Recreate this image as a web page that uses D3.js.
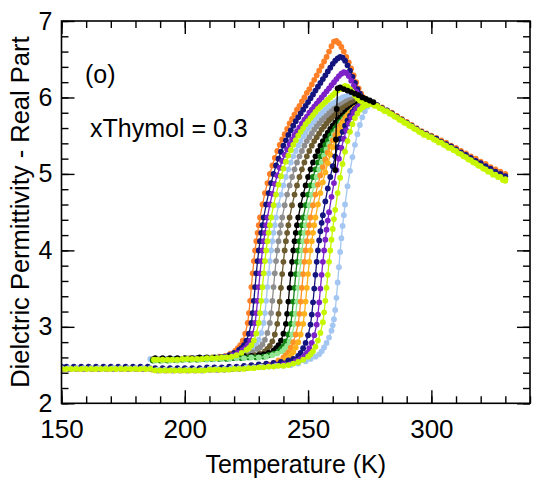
<!DOCTYPE html>
<html><head><meta charset="utf-8">
<script src="https://cdn.jsdelivr.net/npm/d3@7"></script>
<style>body{margin:0;background:#fff}svg{display:block}</style>
</head><body><svg id="c" width="533" height="485"></svg>
<script>
const xTicks = [150, 200, 250, 300];
const yTicks = [2, 3, 4, 5, 6, 7];
const seriesColors = ['#FF7F27','#15157F','#7D22C8','#C6F700','#A4C6F2','#8E8E8E','#6B5B2E','#000000','#128212','#92E592','#FF9326','#FFB21C','#15157F','#7D22C8','#C6F700','#A4C6F2','#000000'];

const s01 = [[187,2.58],[190,2.58],[193,2.58],[196,2.58],[199,2.58],[202,2.59],[205,2.59],[208,2.59],[211,2.60],[214,2.61],[216.5,2.62],[218.5,2.65],[220.5,2.69],[221.5,2.72],[222.5,2.76],[223.5,2.82],[224.5,2.91],[225.5,3.05],[226,3.18],[226.5,3.34],[227,3.52],[227.5,3.70],[228,3.86],[228.5,4.00],[229,4.12],[229.5,4.23],[230,4.33],[230.5,4.43],[231.5,4.60],[232.5,4.75],[233.5,4.88],[234.5,5.00],[235.5,5.11],[236.5,5.21],[237.5,5.30],[238.5,5.38],[239.5,5.45],[240.5,5.52],[241.5,5.59],[242.5,5.66],[243.5,5.72],[244.5,5.78],[245.5,5.84],[246.5,5.89],[247.5,5.95],[248.5,6.00],[249.5,6.06],[250.5,6.11],[251.5,6.17],[252.5,6.23],[253.5,6.29],[254.5,6.35],[255.5,6.41],[256.5,6.47],[257.5,6.53],[258.5,6.60],[259.5,6.67],[260.5,6.73],[261.5,6.74],[262.5,6.71],[263.5,6.66],[264.5,6.60],[265.5,6.53],[266.5,6.46],[267.5,6.38],[268.5,6.29],[269.5,6.20],[270.5,6.12],[271.5,6.05],[272.5,6.00],[273.5,5.97],[274.5,5.95],[276,5.93],[278,5.90],[280,5.87],[282,5.83],[284,5.80],[286,5.76],[288,5.72],[290,5.68],[292,5.64],[294,5.60],[296,5.56],[298,5.53],[300,5.50],[302,5.47],[304,5.44],[306,5.41],[308,5.37],[310,5.34],[312,5.30],[314,5.27],[316,5.23],[318,5.20],[320,5.16],[322,5.13],[324,5.09],[326,5.06],[328,5.03],[330,5.00]];
const s02 = [[187,2.57],[190,2.57],[193,2.58],[196,2.58],[199,2.58],[202,2.58],[205,2.59],[208,2.59],[211,2.59],[214,2.60],[216,2.61],[218,2.63],[220,2.66],[222,2.70],[223,2.72],[224,2.76],[225,2.82],[226,2.91],[227,3.05],[227.5,3.18],[228,3.34],[228.5,3.52],[229,3.70],[229.5,3.86],[230,4.00],[230.5,4.12],[231,4.23],[231.5,4.33],[232,4.43],[233,4.60],[234,4.75],[235,4.88],[236,5.00],[237,5.11],[238,5.20],[239,5.29],[240,5.37],[241,5.44],[242,5.51],[243,5.57],[244,5.63],[245,5.69],[246,5.74],[247,5.79],[248,5.84],[249,5.89],[250,5.94],[251,5.99],[252,6.04],[253,6.09],[254,6.14],[255,6.19],[256,6.24],[257,6.29],[258,6.34],[259,6.39],[260,6.44],[261,6.48],[262,6.51],[263,6.53],[264,6.52],[265,6.48],[266,6.42],[267,6.35],[268,6.27],[269,6.19],[270,6.11],[271,6.05],[272,6.00],[273,5.97],[274,5.95],[275,5.94],[276,5.93],[278,5.90],[280,5.86],[282,5.83],[284,5.79],[286,5.75],[288,5.71],[290,5.67],[292,5.63],[294,5.59],[296,5.55],[298,5.52],[300,5.49],[302,5.46],[304,5.42],[306,5.39],[308,5.36],[310,5.32],[312,5.28],[314,5.25],[316,5.21],[318,5.17],[320,5.14],[322,5.10],[324,5.07],[326,5.03],[328,5.00],[330,4.97]];
const s03 = [[188,2.57],[191,2.57],[194,2.57],[197,2.58],[200,2.58],[203,2.58],[206,2.59],[209,2.59],[212,2.59],[215,2.60],[217.5,2.61],[219.5,2.63],[221.5,2.66],[223.5,2.70],[224.5,2.72],[225.5,2.76],[226.5,2.82],[227.5,2.91],[228.5,3.05],[229,3.18],[229.5,3.34],[230,3.52],[230.5,3.70],[231,3.86],[231.5,4.00],[232,4.12],[232.5,4.23],[233,4.33],[233.5,4.43],[234.5,4.60],[235.5,4.74],[236.5,4.87],[237.5,4.98],[238.5,5.08],[239.5,5.17],[240.5,5.25],[241.5,5.32],[242.5,5.39],[243.5,5.45],[244.5,5.51],[245.5,5.56],[246.5,5.61],[247.5,5.66],[248.5,5.71],[249.5,5.75],[250.5,5.80],[251.5,5.84],[252.5,5.88],[253.5,5.92],[254.5,5.96],[255.5,6.00],[256.5,6.04],[257.5,6.08],[258.5,6.12],[259.5,6.16],[260.5,6.20],[261.5,6.24],[262.5,6.28],[263.5,6.31],[264.5,6.33],[265.5,6.32],[266.5,6.28],[267.5,6.22],[268.5,6.15],[269.5,6.08],[270.5,6.03],[271.5,5.99],[272.5,5.96],[273.5,5.94],[275,5.93],[276,5.92]];
const s04 = [[187.5,2.57],[189,2.57],[191,2.57],[193,2.57],[195,2.57],[197,2.57],[199,2.58],[201,2.58],[203,2.58],[205,2.58],[207,2.58],[209,2.59],[211,2.59],[213,2.59],[215,2.60],[217,2.60],[219,2.61],[221,2.63],[223,2.66],[225,2.70],[226,2.72],[227,2.76],[228,2.82],[229,2.91],[230,3.05],[230.5,3.18],[231,3.34],[231.5,3.52],[232,3.70],[232.5,3.86],[233,4.00],[233.5,4.12],[234,4.23],[234.5,4.33],[235,4.43],[236,4.59],[237,4.73],[238,4.86],[239,4.97],[240,5.07],[241,5.16],[242,5.24],[243,5.31],[244,5.38],[245,5.44],[246,5.50],[247,5.55],[248,5.60],[249,5.65],[250,5.69],[251,5.73],[252,5.77],[253,5.81],[254,5.85],[255,5.88],[256,5.91],[257,5.94],[258,5.97],[259,6.00],[260,6.03],[261,6.06],[262,6.09],[263,6.11],[264,6.13],[265,6.15],[266,6.14],[267,6.11],[268,6.07],[269,6.03],[270,5.99],[271,5.96],[272,5.94],[273,5.93],[274,5.92],[276,5.92],[278,5.89],[280,5.85],[282,5.82],[284,5.78],[286,5.74],[288,5.70],[290,5.66],[292,5.62],[294,5.58],[296,5.54],[298,5.51],[300,5.48],[302,5.44],[304,5.41],[306,5.37],[308,5.34],[310,5.30],[312,5.26],[314,5.22],[316,5.18],[318,5.14],[320,5.10],[322,5.06],[324,5.03],[326,4.99],[328,4.96],[330,4.93]];
const s05 = [[186,2.58],[189,2.58],[192,2.58],[195,2.58],[198,2.58],[201,2.59],[204,2.59],[207,2.59],[210,2.59],[213,2.60],[216,2.60],[219,2.61],[221,2.62],[223,2.64],[225,2.67],[227,2.71],[228,2.73],[229,2.77],[230,2.83],[231,2.92],[232,3.05],[232.5,3.18],[233,3.34],[233.5,3.52],[234,3.70],[234.5,3.86],[235,4.00],[235.5,4.12],[236,4.23],[236.5,4.33],[237,4.43],[238,4.59],[239,4.73],[240,4.85],[241,4.96],[242,5.06],[243,5.15],[244,5.23],[245,5.30],[246,5.37],[247,5.43],[248,5.49],[249,5.54],[250,5.59],[251,5.63],[252,5.67],[253,5.71],[254,5.75],[255,5.78],[256,5.81],[257,5.84],[258,5.87],[259,5.90],[260,5.92],[261,5.94],[262,5.96],[263,5.98],[264,6.00],[265,6.01],[266,6.02],[267,6.03],[268,6.02],[269,6.00],[270,5.98],[271,5.96],[272,5.94],[273,5.93],[274,5.92],[276,5.92]];
const s06 = [[188,2.57],[191,2.57],[194,2.57],[197,2.58],[200,2.58],[203,2.58],[206,2.58],[209,2.59],[212,2.59],[215,2.59],[218,2.60],[221,2.61],[223.5,2.62],[225.5,2.64],[227.5,2.67],[229.5,2.71],[230.5,2.73],[231.5,2.77],[232.5,2.83],[233.5,2.92],[234.5,3.05],[235,3.18],[235.5,3.34],[236,3.52],[236.5,3.70],[237,3.86],[237.5,4.00],[238,4.12],[238.5,4.23],[239,4.33],[239.5,4.43],[240.5,4.59],[241.5,4.73],[242.5,4.85],[243.5,4.96],[244.5,5.06],[245.5,5.15],[246.5,5.23],[247.5,5.30],[248.5,5.37],[249.5,5.43],[250.5,5.48],[251.5,5.53],[252.5,5.58],[253.5,5.62],[254.5,5.66],[255.5,5.70],[256.5,5.73],[257.5,5.76],[258.5,5.79],[259.5,5.82],[260.5,5.85],[261.5,5.87],[262.5,5.89],[263.5,5.91],[264.5,5.93],[265.5,5.95],[266.5,5.96],[267.5,5.97],[268.5,5.98],[269.5,5.97],[270.5,5.96],[271.5,5.95],[272.5,5.94],[273.5,5.93],[275,5.92]];
const s07 = [[187,2.57],[190,2.57],[193,2.57],[196,2.57],[199,2.58],[202,2.58],[205,2.58],[208,2.58],[211,2.59],[214,2.59],[217,2.59],[220,2.60],[223,2.60],[226,2.61],[228.5,2.63],[230.5,2.65],[232.5,2.68],[233.5,2.71],[234.5,2.75],[235.5,2.81],[236.5,2.90],[237.5,3.04],[238,3.17],[238.5,3.33],[239,3.51],[239.5,3.69],[240,3.85],[240.5,4.00],[241,4.12],[241.5,4.23],[242,4.33],[242.5,4.43],[243.5,4.59],[244.5,4.73],[245.5,4.85],[246.5,4.96],[247.5,5.06],[248.5,5.15],[249.5,5.23],[250.5,5.30],[251.5,5.37],[252.5,5.43],[253.5,5.48],[254.5,5.53],[255.5,5.58],[256.5,5.62],[257.5,5.66],[258.5,5.70],[259.5,5.73],[260.5,5.76],[261.5,5.79],[262.5,5.82],[263.5,5.85],[264.5,5.87],[265.5,5.89],[266.5,5.91],[267.5,5.93],[268.5,5.94],[269.5,5.95],[270.5,5.95],[271.5,5.94],[273,5.93],[275,5.92]];
const s08 = [[188,2.59],[191,2.59],[194,2.59],[197,2.59],[200,2.59],[203,2.59],[206,2.60],[209,2.60],[212,2.60],[215,2.60],[218,2.61],[221,2.61],[224,2.62],[227,2.62],[230,2.63],[232,2.64],[234,2.66],[236,2.69],[237,2.72],[238,2.76],[239,2.82],[240,2.91],[241,3.04],[241.5,3.17],[242,3.33],[242.5,3.51],[243,3.69],[243.5,3.85],[244,4.00],[244.5,4.12],[245,4.23],[245.5,4.33],[246,4.43],[247,4.59],[248,4.73],[249,4.85],[250,4.96],[251,5.06],[252,5.15],[253,5.23],[254,5.30],[255,5.37],[256,5.43],[257,5.49],[258,5.54],[259,5.59],[260,5.63],[261,5.67],[262,5.71],[263,5.74],[264,5.77],[265,5.80],[266,5.83],[267,5.85],[268,5.87],[269,5.89],[270,5.91],[271,5.92],[272,5.93],[274,5.93],[276,5.93]];
const s09 = [[187,2.56],[190,2.56],[193,2.56],[196,2.57],[199,2.57],[202,2.57],[205,2.57],[208,2.58],[211,2.58],[214,2.58],[217,2.58],[220,2.59],[223,2.59],[226,2.60],[229,2.60],[232,2.61],[234,2.63],[236,2.65],[238,2.68],[239,2.71],[240,2.75],[241,2.81],[242,2.90],[243,3.04],[243.5,3.17],[244,3.33],[244.5,3.51],[245,3.69],[245.5,3.85],[246,4.00],[246.5,4.12],[247,4.23],[247.5,4.33],[248,4.43],[249,4.59],[250,4.73],[251,4.85],[252,4.96],[253,5.06],[254,5.15],[255,5.23],[256,5.31],[257,5.38],[258,5.44],[259,5.50],[260,5.55],[261,5.60],[262,5.64],[263,5.68],[264,5.72],[265,5.75],[266,5.78],[267,5.81],[268,5.84],[269,5.86],[270,5.88],[271,5.90],[272,5.92],[273,5.93],[274,5.93],[276,5.92]];
const s10 = [[188,2.56],[191,2.56],[194,2.56],[197,2.56],[200,2.57],[203,2.57],[206,2.57],[209,2.57],[212,2.58],[215,2.58],[218,2.58],[221,2.59],[224,2.59],[227,2.60],[230,2.60],[233,2.61],[235.5,2.63],[237.5,2.65],[239.5,2.68],[240.5,2.71],[241.5,2.75],[242.5,2.81],[243.5,2.90],[244.5,3.04],[245,3.17],[245.5,3.33],[246,3.51],[246.5,3.69],[247,3.85],[247.5,4.00],[248,4.12],[248.5,4.23],[249,4.33],[249.5,4.43],[250.5,4.59],[251.5,4.73],[252.5,4.85],[253.5,4.96],[254.5,5.06],[255.5,5.15],[256.5,5.24],[257.5,5.32],[258.5,5.39],[259.5,5.46],[260.5,5.52],[261.5,5.57],[262.5,5.62],[263.5,5.67],[264.5,5.71],[265.5,5.75],[266.5,5.78],[267.5,5.81],[268.5,5.84],[269.5,5.86],[270.5,5.88],[271.5,5.90],[272.5,5.91],[273.5,5.92],[275,5.92]];
const s11 = [[150,2.46],[153,2.46],[156,2.46],[159,2.46],[162,2.46],[165,2.46],[168,2.46],[171,2.46],[174,2.46],[177,2.46],[180,2.46],[183,2.46],[186,2.46],[189,2.44],[192,2.44],[195,2.44],[198,2.44],[201,2.44],[204,2.44],[207,2.44],[210,2.45],[213,2.45],[216,2.45],[219,2.46],[222,2.46],[225,2.47],[228,2.48],[231,2.49],[234,2.51],[236,2.53],[238,2.56],[240,2.60],[241,2.63],[242,2.67],[243,2.73],[244,2.80],[245,2.90],[246,3.04],[246.5,3.17],[247,3.33],[247.5,3.51],[248,3.69],[248.5,3.85],[249,4.00],[249.5,4.12],[250,4.23],[250.5,4.33],[251,4.43],[252,4.59],[253,4.73],[254,4.86],[255,4.98],[256,5.09],[257,5.19],[258,5.28],[259,5.36],[260,5.44],[261,5.51],[262,5.57],[263,5.63],[264,5.68],[265,5.73],[266,5.77],[267,5.80],[268,5.83],[269,5.86],[270,5.88],[271,5.90],[272,5.91],[273,5.92],[275,5.92]];
const s12 = [[151,2.45],[154,2.45],[157,2.45],[160,2.45],[163,2.45],[166,2.45],[169,2.45],[172,2.45],[175,2.45],[178,2.45],[181,2.45],[184,2.45],[187,2.44],[190,2.43],[193,2.43],[196,2.43],[199,2.43],[202,2.43],[205,2.43],[208,2.44],[211,2.44],[214,2.44],[217,2.45],[220,2.45],[223,2.46],[226,2.47],[229,2.48],[232,2.49],[235,2.50],[237,2.52],[239,2.54],[241,2.57],[242,2.60],[243,2.63],[244,2.67],[245,2.73],[246,2.80],[247,2.90],[248,3.04],[248.5,3.17],[249,3.33],[249.5,3.51],[250,3.69],[250.5,3.85],[251,4.00],[251.5,4.12],[252,4.23],[252.5,4.33],[253,4.43],[254,4.60],[255,4.75],[256,4.89],[257,5.02],[258,5.14],[259,5.25],[260,5.35],[261,5.44],[262,5.52],[263,5.59],[264,5.65],[265,5.70],[266,5.75],[267,5.79],[268,5.83],[269,5.86],[270,5.88],[271,5.90],[272,5.91],[273,5.92],[275,5.92]];
const s13 = [[150,2.48],[152,2.48],[155,2.48],[158,2.48],[161,2.48],[164,2.48],[167,2.48],[170,2.48],[173,2.48],[176,2.48],[179,2.48],[182,2.48],[185,2.48],[188,2.46],[191,2.46],[194,2.46],[197,2.46],[200,2.46],[203,2.46],[206,2.46],[209,2.47],[212,2.47],[215,2.47],[218,2.48],[221,2.48],[224,2.49],[227,2.50],[230,2.51],[233,2.52],[236,2.53],[239,2.54],[242,2.56],[244,2.58],[246,2.62],[247,2.66],[248,2.72],[249,2.79],[250,2.89],[251,3.03],[251.5,3.16],[252,3.32],[252.5,3.50],[253,3.68],[253.5,3.85],[254,4.00],[254.5,4.13],[255,4.25],[255.5,4.36],[256,4.46],[257,4.64],[258,4.81],[259,4.96],[260,5.10],[261,5.23],[262,5.35],[263,5.46],[264,5.55],[265,5.63],[266,5.70],[267,5.76],[268,5.81],[269,5.85],[270,5.88],[271,5.90],[272,5.91],[273,5.92],[275,5.92]];
const s14 = [[150,2.45],[153,2.45],[156,2.45],[159,2.45],[162,2.45],[165,2.45],[168,2.45],[171,2.45],[174,2.45],[177,2.45],[180,2.45],[183,2.45],[186,2.45],[189,2.43],[192,2.43],[195,2.43],[198,2.43],[201,2.43],[204,2.43],[207,2.43],[210,2.44],[213,2.44],[216,2.44],[219,2.45],[222,2.45],[225,2.46],[228,2.47],[231,2.48],[234,2.49],[237,2.50],[240,2.51],[243,2.52],[245,2.55],[247,2.58],[248.5,2.62],[249.5,2.66],[250.5,2.72],[251.5,2.79],[252.5,2.89],[253.5,3.03],[254,3.16],[254.5,3.32],[255,3.50],[255.5,3.68],[256,3.85],[256.5,4.00],[257,4.14],[257.5,4.27],[258,4.39],[258.5,4.50],[259.5,4.70],[260.5,4.88],[261.5,5.05],[262.5,5.20],[263.5,5.34],[264.5,5.46],[265.5,5.57],[266.5,5.66],[267.5,5.74],[268.5,5.80],[269.5,5.85],[270.5,5.88],[271.5,5.90],[272.5,5.91],[274,5.92],[276,5.92]];
const s15 = [[150,2.45],[152,2.45],[154,2.45],[156,2.45],[158,2.45],[160,2.45],[162,2.45],[164,2.45],[166,2.45],[168,2.45],[170,2.45],[172,2.45],[174,2.45],[176,2.45],[178,2.45],[180,2.45],[182,2.45],[184,2.45],[186,2.45],[188,2.43],[190,2.43],[192,2.43],[194,2.43],[196,2.43],[198,2.43],[200,2.43],[202,2.43],[204,2.43],[206,2.43],[208,2.43],[210,2.44],[212,2.44],[214,2.44],[216,2.44],[218,2.44],[220,2.45],[222,2.45],[224,2.45],[226,2.46],[228,2.46],[230,2.47],[232,2.47],[234,2.48],[236,2.48],[238,2.49],[240,2.49],[242,2.50],[244,2.52],[246,2.54],[248,2.57],[250,2.61],[251,2.64],[252,2.68],[253,2.74],[254,2.82],[255,2.92],[256,3.06],[256.5,3.19],[257,3.34],[257.5,3.51],[258,3.68],[258.5,3.85],[259,4.00],[259.5,4.14],[260,4.28],[260.5,4.41],[261,4.53],[262,4.75],[263,4.95],[264,5.13],[265,5.29],[266,5.43],[267,5.55],[268,5.65],[269,5.73],[270,5.79],[271,5.84],[272,5.87],[273,5.89],[274,5.90],[275,5.91],[277,5.89],[279,5.86],[281,5.82],[283,5.79],[285,5.75],[287,5.71],[289,5.67],[291,5.63],[293,5.59],[295,5.55],[297,5.51],[299,5.48],[301,5.45],[303,5.41],[305,5.38],[307,5.34],[309,5.31],[311,5.27],[313,5.23],[315,5.19],[317,5.15],[319,5.11],[321,5.07],[323,5.03],[325,4.99],[327,4.96],[329,4.92],[330,4.91]];
const s16 = [[150,2.46],[153,2.46],[156,2.46],[159,2.46],[162,2.46],[165,2.46],[168,2.46],[171,2.46],[174,2.46],[177,2.46],[180,2.46],[183,2.46],[186,2.46],[189,2.44],[192,2.44],[195,2.44],[198,2.44],[201,2.44],[204,2.44],[207,2.44],[210,2.45],[213,2.45],[216,2.45],[219,2.46],[222,2.46],[225,2.47],[228,2.47],[231,2.48],[234,2.48],[237,2.49],[240,2.49],[243,2.50],[246,2.52],[249,2.55],[251,2.58],[253,2.61],[254.5,2.64],[255.5,2.68],[256.5,2.73],[257.5,2.79],[258.5,2.86],[259.5,2.95],[260,3.02],[260.5,3.10],[261,3.22],[261.5,3.38],[262,3.58],[262.5,3.78],[263,3.98],[263.5,4.16],[264,4.32],[264.5,4.46],[265,4.60],[266,4.84],[267,5.04],[268,5.22],[269,5.38],[270,5.52],[271,5.64],[272,5.74],[273,5.82],[274,5.88],[275,5.91],[276,5.92]];
const s17 = [[261,5.05],[261.3,5.45],[261.6,5.85],[262,6.12],[263,6.13],[264.5,6.11],[266,6.09],[267.5,6.07],[269,6.05],[270.5,6.03],[272,6.00],[273.5,5.98],[275,5.96],[276.5,5.94]];

const seriesData = [s01,s02,s03,s04,s05,s06,s07,s08,s09,s10,s11,s12,s13,s14,s15,s16,s17];
const drawOrder = [0,1,2,4,5,6,7,8,9,10,11,12,13,15,3,14,16];

const FONT = '"Liberation Sans", Arial, Helvetica, sans-serif';
const svg = d3.select('#c');
const L = 61.5, R = 530, T = 21, B = 403.3;
const x = d3.scaleLinear().domain([150, 340]).range([L, R]);
const y = d3.scaleLinear().domain([2, 7]).range([B, T]);

svg.append('defs').append('clipPath').attr('id', 'clip')
  .append('rect').attr('x', L).attr('y', T).attr('width', R - L).attr('height', B - T);

const plot = svg.append('g').attr('clip-path', 'url(#clip)');
const line = d3.line().x(d => x(d[0])).y(d => y(d[1]));
drawOrder.forEach(i => {
  const data = seriesData[i], col = seriesColors[i];
  const sg = plot.append('g');
  sg.append('path').datum(data).attr('d', line)
    .attr('fill', 'none').attr('stroke', col).attr('stroke-width', 1.3);
  sg.selectAll('circle').data(data).join('circle')
    .attr('cx', d => x(d[0])).attr('cy', d => y(d[1])).attr('r', 2.9).attr('fill', col);
});

const minorX = d3.range(150, 341, 10);
const minorY = d3.range(2, 7.001, 0.2).map(v => +v.toFixed(1));
function styleAxis(g, size) {
  g.select('.domain').remove();
  g.selectAll('.tick line').attr('stroke', '#000').attr('stroke-width', 1.4);
  g.selectAll('text').attr('font-family', FONT).attr('font-size', size).attr('fill', '#000');
}
svg.append('g').attr('transform', `translate(0,${B})`)
  .call(d3.axisBottom(x).tickValues(minorX).tickSize(-7).tickFormat('')).call(g => styleAxis(g, 0));
svg.append('g').attr('transform', `translate(0,${B})`)
  .call(d3.axisBottom(x).tickValues(xTicks).tickSize(-13).tickPadding(16).tickFormat(d3.format('d')))
  .call(g => styleAxis(g, 26));
svg.append('g').attr('transform', `translate(0,${T})`)
  .call(d3.axisTop(x).tickValues(minorX).tickSize(-7).tickFormat('')).call(g => styleAxis(g, 0));
svg.append('g').attr('transform', `translate(0,${T})`)
  .call(d3.axisTop(x).tickValues(xTicks).tickSize(-13).tickFormat('')).call(g => styleAxis(g, 0));
svg.append('g').attr('transform', `translate(${L},0)`)
  .call(d3.axisLeft(y).tickValues(minorY).tickSize(-7).tickFormat('')).call(g => styleAxis(g, 0));
svg.append('g').attr('transform', `translate(${L},0)`)
  .call(d3.axisLeft(y).tickValues(yTicks).tickSize(-13).tickPadding(9).tickFormat(d3.format('d')))
  .call(g => styleAxis(g, 25));
svg.append('g').attr('transform', `translate(${R},0)`)
  .call(d3.axisRight(y).tickValues(minorY).tickSize(-7).tickFormat('')).call(g => styleAxis(g, 0));
svg.append('g').attr('transform', `translate(${R},0)`)
  .call(d3.axisRight(y).tickValues(yTicks).tickSize(-13).tickFormat('')).call(g => styleAxis(g, 0));

svg.append('rect').attr('x', L).attr('y', T).attr('width', R - L).attr('height', B - T)
  .attr('fill', 'none').attr('stroke', '#000').attr('stroke-width', 1.6);

svg.append('text').attr('x', 85).attr('y', 83).attr('font-family', FONT).attr('font-size', 25).text('(o)');
svg.append('text').attr('x', 90).attr('y', 137).attr('font-family', FONT).attr('font-size', 25).text('xThymol = 0.3');
svg.append('text').attr('x', (L + R) / 2).attr('y', 473).attr('text-anchor', 'middle')
  .attr('font-family', FONT).attr('font-size', 25).text('Temperature (K)');
svg.append('text').attr('transform', `translate(28.5,${(T + B) / 2}) rotate(-90)`).attr('text-anchor', 'middle')
  .attr('font-family', FONT).attr('font-size', 25.5).text('Dielctric Permittivity - Real Part');
</script>
</body></html>
